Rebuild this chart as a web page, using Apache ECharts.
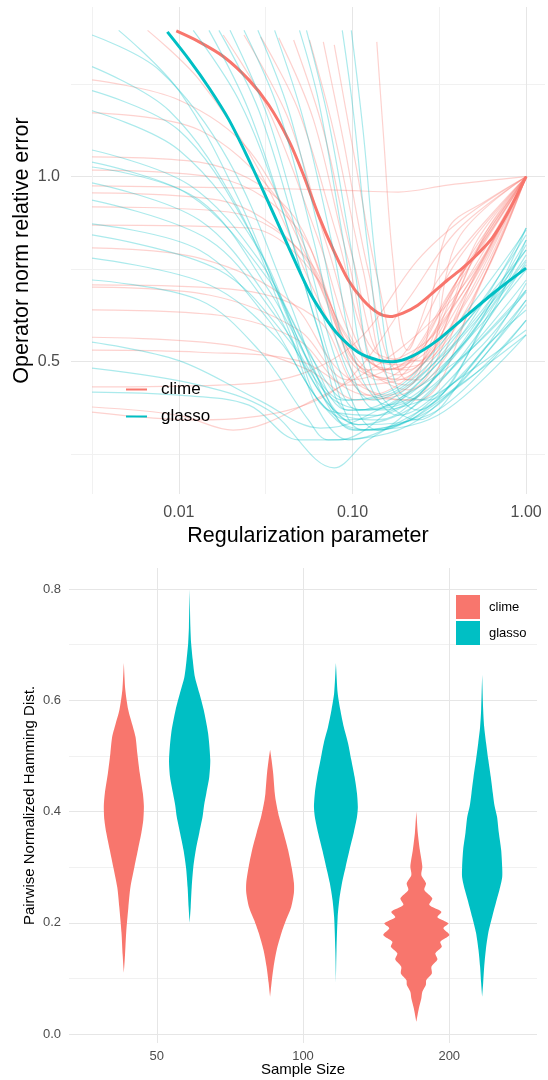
<!DOCTYPE html>
<html>
<head>
<meta charset="utf-8">
<script src="https://cdn.jsdelivr.net/npm/echarts@6/dist/echarts.min.js"></script>
<style>
html, body { margin: 0; padding: 0; background: #fff; }
#chart { width: 548px; height: 1080px; }
</style>
</head>
<body>
<div id="chart"></div>
<script>
// ---- top panel: operator norm relative error vs regularization parameter ----
// [lambda, error] pairs
var climeMean = [[0.00966,1.726],[0.01308,1.657],[0.01819,1.566],[0.02529,1.437],[0.03292,1.308],[0.04284,1.147],[0.05222,1.006],[0.06363,0.866],[0.07752,0.760],[0.09449,0.679],[0.1151,0.630],[0.1404,0.600],[0.1643,0.592],[0.1951,0.600],[0.2377,0.618],[0.2896,0.647],[0.3530,0.679],[0.4302,0.710],[0.5243,0.748],[0.6389,0.795],[0.7784,0.870],[1,1]];
var glassoMean = [[0.00858,1.720],[0.01147,1.549],[0.01493,1.394],[0.01943,1.237],[0.02529,1.065],[0.03292,0.906],[0.04284,0.768],[0.05578,0.654],[0.06797,0.596],[0.08281,0.553],[0.1078,0.518],[0.1404,0.503],[0.1710,0.500],[0.2226,0.511],[0.3095,0.542],[0.4595,0.596],[0.6823,0.654],[1,0.710]];

var climeRuns = [
  [[0.00316,1.077],[0.0131,1.056],[0.0429,0.883],[0.0885,0.563],[0.160,0.485],[0.403,0.679],[1,1]],
  [[0.00316,1.025],[0.0170,0.995],[0.0489,0.819],[0.0944,0.542],[0.183,0.476],[0.46,0.654],[1,1]],
  [[0.00316,0.966],[0.0253,0.958],[0.0828,0.951],[0.183,0.944],[0.353,0.969],[1,1]],
  [[0.00316,0.941],[0.0170,0.916],[0.0489,0.760],[0.0944,0.522],[0.140,0.467],[0.403,0.630],[1,1]],
  [[0.00316,0.893],[0.0194,0.876],[0.0557,0.732],[0.1009,0.502],[0.208,0.458],[0.353,0.819],[0.598,0.916],[1,1]],
  [[0.00316,0.834],[0.0253,0.825],[0.0637,0.679],[0.108,0.485],[0.238,0.467],[0.403,0.789],[1,1]],
  [[0.00316,0.766],[0.0131,0.737],[0.0429,0.630],[0.0828,0.485],[0.160,0.441],[0.46,0.630],[1,1]],
  [[0.00316,0.667],[0.0222,0.654],[0.0637,0.584],[0.108,0.450],[0.208,0.433],[0.524,0.705],[1,1]],
  [[0.00316,0.661],[0.0149,0.642],[0.0489,0.563],[0.0944,0.467],[0.183,0.502],[0.403,0.732],[1,1]],
  [[0.00316,0.607],[0.0170,0.595],[0.0489,0.542],[0.0944,0.458],[0.238,0.485],[0.524,0.760],[1,1]],
  [[0.00316,0.548],[0.0194,0.532],[0.0557,0.485],[0.108,0.433],[0.271,0.467],[0.598,0.705],[1,1]],
  [[0.00316,0.522],[0.0131,0.518],[0.0489,0.502],[0.123,0.441],[0.310,0.532],[1,1]],
  [[0.00316,0.455],[0.0170,0.458],[0.0489,0.476],[0.108,0.542],[0.238,0.732],[0.46,0.866],[1,1]],
  [[0.00316,0.422],[0.010,0.409],[0.0205,0.387],[0.0596,0.433],[0.183,0.522],[0.46,0.679],[1,1]],
  [[0.00316,0.414],[0.0131,0.402],[0.0429,0.417],[0.0944,0.467],[0.208,0.630],[0.403,0.819],[1,1]],
  [[0.0180,1.70],[0.0329,1.28],[0.0637,0.789],[0.108,0.522],[0.183,0.494],[0.403,0.679],[1,1]],
  [[0.0237,1.70],[0.0429,1.237],[0.0726,0.760],[0.123,0.502],[0.208,0.485],[0.46,0.732],[1,1]],
  [[0.0296,1.688],[0.0489,1.28],[0.0828,0.789],[0.131,0.522],[0.238,0.502],[0.524,0.789],[1,1]],
  [[0.0376,1.682],[0.0596,1.237],[0.0944,0.732],[0.150,0.485],[0.271,0.522],[0.598,0.819],[1,1]],
  [[0.0458,1.669],[0.0679,1.191],[0.1009,0.732],[0.160,0.502],[0.310,0.563],[1,1]],
  [[0.0565,1.669],[0.0776,1.191],[0.115,0.705],[0.171,0.467],[0.353,0.607],[1,1]],
  [[0.0679,1.657],[0.0885,1.147],[0.123,0.705],[0.183,0.485],[0.353,0.630],[1,1]],
  [[0.0785,1.638],[0.1009,1.105],[0.140,0.679],[0.208,0.467],[0.403,0.679],[1,1]],
  [[0.138,1.657],[0.150,1.191],[0.171,0.732],[0.208,0.522],[0.310,0.679],[1,1]],
  [[0.0066,1.73],[0.0131,1.437],[0.0289,1.025],[0.0637,0.630],[0.123,0.450],[0.238,0.433],[0.524,0.654],[1,1]],
  [[0.00316,1.437],[0.010,1.333],[0.0253,1.105],[0.0557,0.732],[0.108,0.502],[0.208,0.450],[0.46,0.654],[1,1]],
  [[0.00316,1.27],[0.0131,1.191],[0.0376,0.916],[0.0726,0.630],[0.123,0.485],[0.271,0.502],[1,1]]
];

var glassoRuns = [
  [[0.00316,1.70],[0.00772,1.49],[0.0194,1.06],[0.0429,0.63],[0.0726,0.433],[0.108,0.395],[0.271,0.441],[1,0.727]],
  [[0.00316,1.51],[0.0088,1.28],[0.0222,0.883],[0.0429,0.563],[0.0637,0.417],[0.0944,0.373],[0.183,0.402],[1,0.654]],
  [[0.00316,1.38],[0.010,1.19],[0.0253,0.819],[0.0489,0.542],[0.0828,0.402],[0.140,0.387],[0.403,0.467],[1,0.563]],
  [[0.00316,1.28],[0.010,1.105],[0.0289,0.760],[0.0557,0.502],[0.0885,0.433],[0.183,0.450],[0.46,0.584],[1,0.760]],
  [[0.00316,1.105],[0.0115,0.969],[0.0289,0.732],[0.0557,0.522],[0.0944,0.417],[0.238,0.441],[1,0.789]],
  [[0.00316,1.056],[0.0131,0.916],[0.0329,0.654],[0.0637,0.467],[0.1009,0.387],[0.238,0.409],[1,0.630]],
  [[0.00316,1.037],[0.0115,0.934],[0.0329,0.679],[0.0596,0.502],[0.0944,0.433],[0.208,0.467],[1,0.819]],
  [[0.00316,0.977],[0.0131,0.850],[0.0329,0.630],[0.0637,0.450],[0.108,0.395],[0.310,0.417],[1,0.584]],
  [[0.00316,0.916],[0.0149,0.789],[0.0376,0.584],[0.0726,0.441],[0.123,0.417],[0.353,0.502],[1,0.746]],
  [[0.00316,0.838],[0.0131,0.760],[0.0329,0.584],[0.0637,0.433],[0.108,0.387],[0.310,0.409],[1,0.553]],
  [[0.00316,0.804],[0.0170,0.705],[0.0429,0.542],[0.0785,0.417],[0.140,0.402],[0.403,0.522],[1,0.705]],
  [[0.00316,0.737],[0.0149,0.667],[0.0376,0.542],[0.0637,0.433],[0.0944,0.402],[0.271,0.450],[1,0.679]],
  [[0.00316,0.679],[0.0131,0.630],[0.0289,0.522],[0.0557,0.402],[0.0726,0.373],[0.238,0.402],[1,0.619]],
  [[0.00316,0.538],[0.010,0.502],[0.0289,0.433],[0.0653,0.390],[0.108,0.402],[0.403,0.502],[1,0.649]],
  [[0.00316,0.488],[0.0131,0.458],[0.0329,0.417],[0.0785,0.336],[0.123,0.373],[0.310,0.433],[1,0.553]],
  [[0.00316,0.446],[0.010,0.441],[0.0253,0.425],[0.0489,0.373],[0.0828,0.373],[0.140,0.402],[0.403,0.542],[1,0.825]],
  [[0.0045,1.73],[0.010,1.38],[0.0222,0.916],[0.0429,0.584],[0.0726,0.417],[0.140,0.409],[1,0.775]],
  [[0.0121,1.73],[0.0222,1.33],[0.0376,0.916],[0.0637,0.563],[0.0944,0.417],[0.183,0.433],[1,0.732]],
  [[0.0149,1.73],[0.0253,1.28],[0.0429,0.819],[0.0726,0.502],[0.115,0.387],[0.310,0.425],[1,0.630]],
  [[0.0170,1.73],[0.0289,1.28],[0.0489,0.789],[0.0776,0.485],[0.108,0.417],[0.271,0.485],[1,0.804]],
  [[0.0197,1.73],[0.0329,1.237],[0.0557,0.732],[0.0885,0.467],[0.140,0.387],[0.46,0.467],[1,0.584]],
  [[0.0237,1.73],[0.0376,1.28],[0.0596,0.789],[0.0885,0.502],[0.131,0.433],[0.353,0.522],[1,0.760]],
  [[0.0285,1.73],[0.0429,1.28],[0.0637,0.819],[0.0944,0.502],[0.140,0.417],[0.403,0.467],[1,0.671]],
  [[0.0356,1.73],[0.0522,1.237],[0.0776,0.760],[0.108,0.485],[0.160,0.425],[0.46,0.542],[1,0.825]],
  [[0.0495,1.73],[0.0637,1.33],[0.0885,0.789],[0.123,0.467],[0.183,0.409],[0.524,0.522],[1,0.654]],
  [[0.0543,1.73],[0.0726,1.237],[0.1009,0.732],[0.140,0.450],[0.238,0.402],[0.598,0.532],[1,0.607]],
  [[0.0873,1.73],[0.1009,1.28],[0.123,0.760],[0.160,0.467],[0.238,0.417],[0.598,0.584],[1,0.789]],
  [[0.0984,1.73],[0.115,1.19],[0.140,0.679],[0.183,0.450],[0.271,0.433],[0.683,0.630],[1,0.719]]
];

// ---- bottom panel: pairwise normalized Hamming distance violins ----
var sampleSizes = ['50', '100', '200'];
// density outline: distance values and violin half-widths (x-axis units)
var climeViolinY = [
  [0.110,0.142,0.182,0.228,0.264,0.300,0.331,0.362,0.385,0.410,0.433,0.469,0.505,0.534,0.556,0.583,0.619,0.667],
  [0.067,0.092,0.121,0.151,0.182,0.205,0.228,0.254,0.272,0.300,0.331,0.362,0.390,0.421,0.433,0.469,0.493,0.511],
  [0.022,0.046,0.064,0.076,0.088,0.097,0.109,0.121,0.134,0.145,0.157,0.166,0.178,0.190,0.199,0.210,0.220,0.232,0.244,0.259,0.271,0.286,0.301,0.331,0.361,0.400]
];
var climeViolinW = [
  [0,0.008,0.016,0.031,0.045,0.072,0.096,0.120,0.133,0.137,0.130,0.109,0.092,0.080,0.058,0.030,0.010,0],
  [0,0.010,0.024,0.045,0.078,0.109,0.144,0.163,0.163,0.147,0.123,0.092,0.062,0.038,0.032,0.021,0.010,0],
  [0,0.017,0.034,0.041,0.065,0.068,0.106,0.103,0.144,0.130,0.174,0.164,0.226,0.185,0.219,0.144,0.171,0.089,0.109,0.055,0.066,0.034,0.041,0.024,0.010,0]
];
var glassoViolinY = [
  [0.200,0.228,0.264,0.300,0.331,0.362,0.390,0.412,0.433,0.462,0.493,0.541,0.583,0.613,0.642,0.673,0.703,0.732,0.800],
  [0.092,0.151,0.210,0.241,0.272,0.300,0.331,0.362,0.390,0.408,0.433,0.462,0.493,0.523,0.552,0.583,0.613,0.667],
  [0.067,0.092,0.121,0.151,0.182,0.210,0.241,0.259,0.282,0.300,0.331,0.362,0.390,0.410,0.433,0.462,0.493,0.523,0.552,0.583,0.646]
];
var glassoViolinW = [
  [0,0.007,0.014,0.025,0.042,0.066,0.088,0.099,0.114,0.134,0.141,0.126,0.096,0.066,0.036,0.021,0.010,0.005,0],
  [0,0.004,0.012,0.023,0.042,0.066,0.093,0.122,0.144,0.150,0.144,0.128,0.105,0.083,0.054,0.030,0.012,0],
  [0,0.007,0.014,0.025,0.042,0.068,0.099,0.118,0.137,0.137,0.130,0.114,0.102,0.085,0.073,0.059,0.042,0.027,0.014,0.007,0]
];

var RED = '#F8766D', TEAL = '#00BFC4';
var FONT = "'Liberation Sans', Arial, sans-serif";
var MAJOR = '#e6e6e6', MINOR = '#f1f1f1';

function toLog(points) {
    return points.map(function (p) { return [Math.log10(p[0]), Math.log2(p[1])]; });
}
function isInt(v) { return Math.abs(v - Math.round(v)) < 1e-6; }

function runSeries(name, color, run) {
    return {
        name: name, type: 'line', xAxisIndex: 0, yAxisIndex: 0,
        data: toLog(run), symbol: 'none', smooth: 0.35, silent: true,
        lineStyle: { color: color, width: 1.2, opacity: 0.33 }
    };
}
function meanSeries(name, color, pts) {
    return {
        name: name, type: 'line', xAxisIndex: 0, yAxisIndex: 0, color: color,
        data: toLog(pts), symbol: 'none', smooth: 0.3, silent: true,
        lineStyle: { color: color, width: 3 }
    };
}
function violinSeries(name, color, offset, ys, ws) {
    return {
        name: name, type: 'custom', xAxisIndex: 1, yAxisIndex: 1, color: color, silent: true,
        data: sampleSizes.map(function (s, i) { return [i + offset, ys[i][0]]; }),
        encode: { x: 0, y: 1 },
        renderItem: function (params, api) {
            var i = params.dataIndex, xc = api.value(0);
            var left = [], right = [];
            for (var k = 0; k < ys[i].length; k++) {
                left.push(api.coord([xc - ws[i][k], ys[i][k]]));
                right.push(api.coord([xc + ws[i][k], ys[i][k]]));
            }
            return {
                type: 'polygon',
                shape: { points: left.concat(right.reverse()), smooth: 0.25 },
                style: { fill: color }
            };
        }
    };
}

var series = [];
climeRuns.forEach(function (r, i) { series.push(runSeries('clime run ' + (i + 1), RED, r)); });
series.push(meanSeries('clime', RED, climeMean));
glassoRuns.forEach(function (r, i) { series.push(runSeries('glasso run ' + (i + 1), TEAL, r)); });
series.push(meanSeries('glasso', TEAL, glassoMean));
series.push(violinSeries('clime', RED, -0.225, climeViolinY, climeViolinW));
series.push(violinSeries('glasso', TEAL, 0.225, glassoViolinY, glassoViolinW));

function lineLegend(name, top) {
    return {
        data: [name], left: 126, top: top, padding: 0, selectedMode: false,
        icon: 'rect', itemWidth: 21, itemHeight: 2,
        itemStyle: { borderWidth: 0 },
        textStyle: { fontSize: 17, color: '#000', fontFamily: FONT, padding: [0, 0, 0, 9] }
    };
}
function boxLegend(name, top) {
    return {
        data: [name], left: 456, top: top, padding: 0, selectedMode: false,
        icon: 'rect', itemWidth: 24, itemHeight: 24,
        itemStyle: { borderWidth: 0 },
        textStyle: { fontSize: 13, color: '#000', fontFamily: FONT, padding: [0, 0, 0, 4] }
    };
}

var chart = echarts.init(document.getElementById('chart'));
chart.setOption({
    animation: false,
    backgroundColor: '#fff',
    textStyle: { fontFamily: FONT },
    grid: [
        { left: 71, right: 0, top: 7, height: 487 },
        { left: 69, right: 11, top: 568, height: 475 }
    ],
    legend: [
        lineLegend('clime', 381),
        lineLegend('glasso', 408),
        boxLegend('clime', 595),
        boxLegend('glasso', 621)
    ],
    xAxis: [
        {
            type: 'value', gridIndex: 0, min: -2.6216, max: 0.1088, splitNumber: 5,
            name: 'Regularization parameter', nameLocation: 'middle', nameGap: 31, nameMoveOverlap: false,
            nameTextStyle: { fontSize: 21.5, color: '#000', fontFamily: FONT },
            axisLine: { show: false }, axisTick: { show: false },
            axisLabel: {
                margin: 11, fontSize: 16, color: '#4d4d4d', fontFamily: FONT,
                formatter: function (v) { return isInt(v) ? Math.pow(10, Math.round(v)).toFixed(2) : ''; }
            },
            splitLine: { show: true, showMinLine: false, showMaxLine: false, lineStyle: { color: [MINOR, MAJOR], width: 1 } }
        },
        {
            type: 'value', gridIndex: 1, min: -0.6, max: 2.6, splitNumber: 3,
            name: 'Sample Size', nameLocation: 'middle', nameGap: 19, nameMoveOverlap: false,
            nameTextStyle: { fontSize: 15, color: '#000', fontFamily: FONT },
            axisLine: { show: false }, axisTick: { show: false },
            axisLabel: {
                margin: 7, fontSize: 13, color: '#4d4d4d', fontFamily: FONT,
                formatter: function (v) { return isInt(v) ? (sampleSizes[Math.round(v)] || '') : ''; }
            },
            splitLine: { show: true, showMinLine: false, showMaxLine: false, lineStyle: { color: MAJOR, width: 1 } }
        }
    ],
    yAxis: [
        {
            type: 'value', gridIndex: 0, min: -1.715, max: 0.917, splitNumber: 5,
            name: 'Operator norm relative error', nameLocation: 'middle', nameGap: 38, nameMoveOverlap: false,
            nameTextStyle: { fontSize: 21.5, color: '#000', fontFamily: FONT },
            axisLine: { show: false }, axisTick: { show: false },
            axisLabel: {
                margin: 11, fontSize: 16, color: '#4d4d4d', fontFamily: FONT,
                formatter: function (v) { return isInt(v) ? Math.pow(2, Math.round(v)).toFixed(1) : ''; }
            },
            splitLine: { show: true, showMinLine: false, showMaxLine: false, lineStyle: { color: [MINOR, MAJOR], width: 1 } }
        },
        {
            type: 'value', gridIndex: 1, min: -0.0162, max: 0.838, splitNumber: 8,
            name: 'Pairwise Normalized Hamming Dist.', nameLocation: 'middle', nameGap: 32, nameMoveOverlap: false,
            nameTextStyle: { fontSize: 15, color: '#000', fontFamily: FONT },
            axisLine: { show: false }, axisTick: { show: false },
            axisLabel: {
                margin: 8, fontSize: 13, color: '#4d4d4d', fontFamily: FONT,
                formatter: function (v) { return isInt(v * 5) ? v.toFixed(1) : ''; }
            },
            splitLine: { show: true, showMinLine: false, showMaxLine: false, lineStyle: { color: [MAJOR, MINOR], width: 1 } }
        }
    ],
    series: series
});
</script>
</body>
</html>
